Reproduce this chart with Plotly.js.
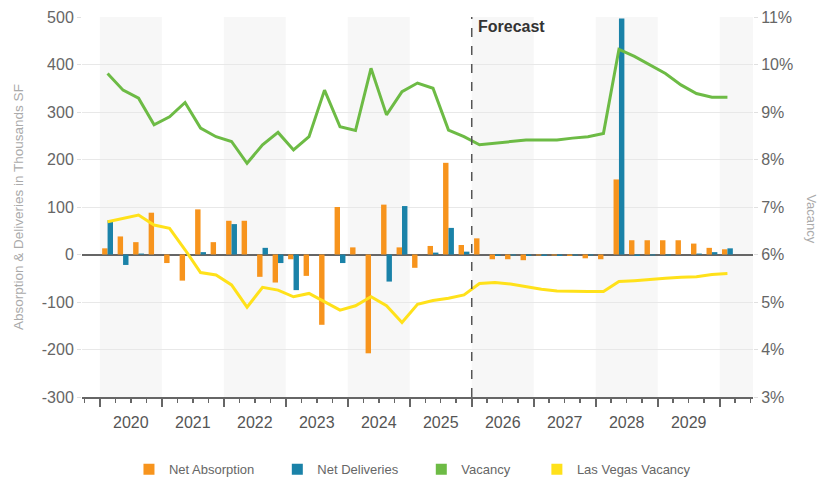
<!DOCTYPE html>
<html><head><meta charset="utf-8">
<script src="https://cdn.plot.ly/plotly-3.0.1.min.js"></script>
<style>html,body{margin:0;padding:0;background:#fff}#chart{width:822px;height:482px}</style>
</head><body><div id="chart"></div>
<script>
// Quarters 2020 Q1 .. 2030 Q1 (index 0..40)
const quarters = ["2020Q1","2020Q2","2020Q3","2020Q4","2021Q1","2021Q2","2021Q3","2021Q4",
"2022Q1","2022Q2","2022Q3","2022Q4","2023Q1","2023Q2","2023Q3","2023Q4",
"2024Q1","2024Q2","2024Q3","2024Q4","2025Q1","2025Q2","2025Q3","2025Q4",
"2026Q1","2026Q2","2026Q3","2026Q4","2027Q1","2027Q2","2027Q3","2027Q4",
"2028Q1","2028Q2","2028Q3","2028Q4","2029Q1","2029Q2","2029Q3","2029Q4","2030Q1"];
const yearLabels = ["2020","2021","2022","2023","2024","2025","2026","2027","2028","2029"];
const leftTicks = [-300,-200,-100,0,100,200,300,400,500];
const leftTickText = ["-300","-200","-100","0","100","200","300","400","500"];
const netAbsorption = [13,38,26,88,-18,-55,95,26,71,71,-47,-59,-10,-45,-148,100,15,-208,105,15,
-28,18,193,20,34,-10,-10,-12,-2,-2,-3,-8,-10,158,30,30,30,30,23,14,11];
const netDeliveries = [72,-22,2,0,0,0,5,0,64,0,14,-18,-75,0,0,-18,0,0,-57,102,
0,4,56,6,0,-3,-2,-3,-3,-3,-2,-2,0,497,-3,-2,-2,0,2,5,13];
const vacancy = [9.81,9.46,9.29,8.73,8.90,9.20,8.66,8.48,8.38,7.92,8.31,8.57,8.20,8.48,9.46,8.69,
8.61,9.92,8.94,9.43,9.61,9.50,8.62,8.48,8.31,8.34,8.38,8.41,8.41,8.41,8.45,8.48,8.55,
10.32,10.17,9.99,9.81,9.57,9.39,9.31,9.31];
const lvVacancy = [6.69,6.76,6.83,6.62,6.55,6.10,5.62,5.57,5.36,4.89,5.31,5.25,5.11,5.18,5.01,4.83,
4.92,5.11,4.92,4.57,4.95,5.03,5.08,5.15,5.39,5.41,5.38,5.32,5.27,5.23,5.22,5.22,5.22,
5.43,5.45,5.48,5.50,5.52,5.53,5.58,5.60];
const forecastStart = "2026Q1";
const seriesNames = ["Net Absorption","Net Deliveries","Vacancy","Las Vegas Vacancy"];

const colors = ["#F7941D","#1A82A8","#6DBB45","#FFE11A"];
const idx = quarters.map((q,i)=>i);
const yearCenters = yearLabels.map((y,k)=>1.5+4*k);
const yearBounds = []; for(let k=0;k<=10;k++) yearBounds.push(-0.5+4*k);
const fIdx = quarters.indexOf(forecastStart) - 0.5;
const xr = [-1.65, quarters.length - 1 + 1.65];

const traces = [
 {type:"bar", x:idx, y:netAbsorption, name:seriesNames[0], marker:{color:colors[0]}, showlegend:false},
 {type:"bar", x:idx, y:netDeliveries, name:seriesNames[1], marker:{color:colors[1]}, showlegend:false},
 {type:"scatter", mode:"lines", x:idx, y:vacancy, yaxis:"y2", name:seriesNames[2], line:{color:colors[2], width:3}, showlegend:false},
 {type:"scatter", mode:"lines", x:idx, y:lvVacancy, yaxis:"y2", name:seriesNames[3], line:{color:colors[3], width:3}, showlegend:false}
];
const pad = ["\u00A0\u00A0\u00A0\u00A0\u00A0","\u00A0\u00A0\u00A0\u00A0\u00A0","\u00A0\u00A0\u00A0\u00A0\u00A0\u00A0",""];
seriesNames.forEach((n,k)=>{
 traces.push({type:"scatter", mode:"markers", x:[null], y:[null], xaxis:"x2", name:n+pad[k],
   marker:{symbol:"square", size:11, color:colors[k]}, showlegend:true});
});

const shapes = [];
for(let k=0;k<=10;k+=2){
 shapes.push({type:"rect", xref:"x", yref:"paper", x0:yearBounds[k], x1:yearBounds[k]+4, y0:0, y1:1,
   fillcolor:"#f7f7f7", line:{width:0}, layer:"below"});
}
shapes.push({type:"line", xref:"x", yref:"paper", x0:fIdx, x1:fIdx, y0:0, y1:1,
  line:{color:"#555", width:1.5, dash:"dash"}});

const layout = {
 width:822, height:482,
 margin:{l:82, r:69, t:17, b:85, autoexpand:false},
 paper_bgcolor:"#fff", plot_bgcolor:"rgba(0,0,0,0)",
 font:{family:"Liberation Sans, Arial, sans-serif", color:"#555"},
 barmode:"group", bargap:0.3, bargroupgap:0,
 showlegend:true,
 legend:{orientation:"h", x:0.07, xanchor:"left", y:-0.19, yanchor:"middle",
   font:{size:13, color:"#666"}, itemwidth:30, traceorder:"normal"},
 xaxis:{range:xr, tickmode:"array", tickvals:yearCenters, ticktext:yearLabels,
   ticks:"outside", ticklen:10, tickcolor:"rgba(0,0,0,0)", tickfont:{size:16, color:"#555"},
   showgrid:false, zeroline:false, showline:true, linecolor:"#666", linewidth:2, fixedrange:true},
 xaxis2:{range:xr, overlaying:"x", anchor:"y", side:"bottom", tickmode:"array", tickvals:yearBounds,
   showticklabels:false, ticks:"outside", ticklen:9, tickwidth:2, tickcolor:"#666",
   minor:{tickmode:"linear", tick0:-0.5, dtick:1, ticks:"outside", ticklen:5, tickwidth:1.5, tickcolor:"#666"},
   showgrid:false, zeroline:false, showline:false},
 yaxis:{range:[-300,500], tickmode:"array", tickvals:leftTicks, ticktext:leftTickText,
   showgrid:true, gridcolor:"#e8e8e8", gridwidth:1,
   zeroline:true, zerolinecolor:"#666", zerolinewidth:2, ticks:"outside", ticklen:4, tickcolor:"#e0e0e0",
   tickfont:{size:16, color:"#666"}, showline:false},
 yaxis2:{range:[3,11], dtick:1, tick0:3, overlaying:"y", side:"right", ticksuffix:"%",
   showgrid:false, zeroline:false, ticks:"outside", ticklen:4, tickcolor:"#e0e0e0",
   tickfont:{size:16, color:"#666"}, showline:false},
 shapes:shapes,
 annotations:[
  {text:"Absorption & Deliveries in Thousands SF", xref:"paper", yref:"paper", x:0, y:0.5,
   xanchor:"center", yanchor:"middle", xshift:-64, textangle:-90, showarrow:false, font:{size:13.5, color:"#aaa"}},
  {text:"Vacancy", xref:"paper", yref:"paper", x:1, y:0.47, xanchor:"center", yanchor:"middle",
   xshift:59, textangle:90, showarrow:false, font:{size:13, color:"#aaa"}},
  {text:"<b>Forecast</b>", xref:"x", yref:"paper", x:fIdx, y:1, xanchor:"left", yanchor:"top",
   xshift:4, yshift:1, showarrow:false, font:{size:16, color:"#333"}}
 ]
};
Plotly.newPlot("chart", traces, layout, {staticPlot:true, displayModeBar:false});
</script></body></html>
